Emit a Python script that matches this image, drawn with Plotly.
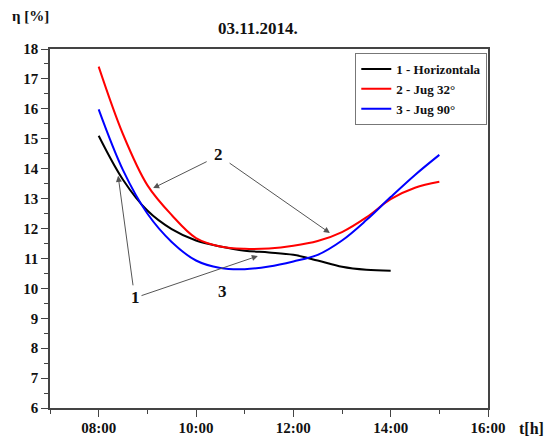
import plotly.graph_objects as go

# Data (hours as decimal, efficiency in %)
hours_black = [8.0, 8.5, 9.0, 9.5, 10.0, 10.5, 11.0, 11.5, 12.0, 12.5, 13.0, 13.5, 14.0]
eta_horizontala = [15.1, 13.63, 12.6, 11.98, 11.6, 11.4, 11.26, 11.2, 11.12, 10.93, 10.72, 10.62, 10.59]

hours_full = [8.0, 8.5, 9.0, 9.5, 10.0, 10.5, 11.0, 11.5, 12.0, 12.5, 13.0, 13.5, 14.0, 14.5, 15.0]
eta_jug32 = [17.41, 15.15, 13.45, 12.45, 11.68, 11.4, 11.32, 11.33, 11.42, 11.58, 11.88, 12.37, 12.98, 13.36, 13.56]
eta_jug90 = [15.98, 13.95, 12.5, 11.55, 10.93, 10.68, 10.64, 10.73, 10.9, 11.12, 11.6, 12.28, 13.05, 13.79, 14.46]

series_names = ["1 - Horizontala", "2 - Jug 32°", "3 - Jug 90°"]
series_colors = ["#000000", "#ff0000", "#0000ff"]

x_tickvals = [8, 10, 12, 14, 16]
x_ticktext = ["08:00", "10:00", "12:00", "14:00", "16:00"]
y_tickvals = [6, 7, 8, 9, 10, 11, 12, 13, 14, 15, 16, 17, 18]

FONT = "Liberation Serif, Times New Roman, serif"

fig = go.Figure()
fig.add_trace(go.Scatter(x=hours_black, y=eta_horizontala, mode="lines", name=series_names[0],
                         line=dict(color=series_colors[0], width=2, shape="spline", smoothing=1)))
fig.add_trace(go.Scatter(x=hours_full, y=eta_jug32, mode="lines", name=series_names[1],
                         line=dict(color=series_colors[1], width=2, shape="spline", smoothing=1)))
fig.add_trace(go.Scatter(x=hours_full, y=eta_jug90, mode="lines", name=series_names[2],
                         line=dict(color=series_colors[2], width=2, shape="spline", smoothing=1)))

axis_common = dict(showgrid=False, zeroline=False, showline=True, linecolor="#444444", linewidth=1.5,
                   mirror=True, ticks="outside", tickcolor="#444444", tickwidth=1.2, automargin=False,
                   tickfont=dict(family=FONT, size=15, color="#111111", weight="bold"))

fig.update_xaxes(range=[7, 16], tickvals=x_tickvals, ticktext=x_ticktext, ticklen=7,
                 ticklabelstandoff=-2,
                 minor=dict(dtick=1, tick0=7, ticklen=4, ticks="outside", tickcolor="#444444"),
                 **axis_common)
fig.update_yaxes(range=[6, 18], tickvals=y_tickvals, ticklen=7,
                 minor=dict(dtick=0.5, tick0=6, ticklen=4, ticks="outside", tickcolor="#444444"),
                 **axis_common)

ann_font = dict(family=FONT, size=17, color="#111111", weight="bold")
annotations = []
# arrows: (tail_x, tail_y, tip_x, tip_y)
arrows = [
    (10.25, 14.26, 9.12, 13.35),
    (10.66, 14.22, 12.75, 11.85),
    (8.71, 10.05, 8.40, 13.76),
    (8.85, 9.74, 11.27, 11.08),
]
for tx, ty, hx, hy in arrows:
    annotations.append(dict(x=hx, y=hy, ax=tx, ay=ty, xref="x", yref="y", axref="x", ayref="y",
                            text="", showarrow=True, arrowhead=2, arrowsize=1.2, arrowwidth=1,
                            arrowcolor="#555555", standoff=0, startstandoff=0))
labels = [("2", 10.47, 14.46), ("1", 8.75, 9.68), ("3", 10.55, 9.91)]
for t, lx, ly in labels:
    annotations.append(dict(x=lx, y=ly, xref="x", yref="y", text=t, showarrow=False, font=ann_font,
                            xanchor="center", yanchor="middle"))

annotations.append(dict(x=0.475, y=1.056, xref="paper", yref="paper", text="03.11.2014.", showarrow=False,
                        xanchor="center", yanchor="middle",
                        font=dict(family=FONT, size=17, color="#111111", weight="bold")))
annotations.append(dict(x=-0.045, y=1.092, xref="paper", yref="paper", text="η [%]", showarrow=False,
                        xanchor="center", yanchor="middle",
                        font=dict(family=FONT, size=15, color="#111111", weight="bold")))
annotations.append(dict(x=1.10, y=-0.056, xref="paper", yref="paper", text="t[h]", showarrow=False,
                        xanchor="center", yanchor="middle",
                        font=dict(family=FONT, size=16, color="#111111", weight="bold")))

fig.update_layout(
    width=553, height=436,
    margin=dict(l=50, r=65, t=49, b=28),
    paper_bgcolor="white", plot_bgcolor="white",
    showlegend=True,
    legend=dict(x=0.697, y=0.989, xanchor="left", yanchor="top", bgcolor="white",
                bordercolor="#777777", borderwidth=1, tracegroupgap=0,
                font=dict(family=FONT, size=13, color="#111111", weight="bold"),
                itemwidth=30),
    annotations=annotations,
)

fig.write_html("out.html", config={"displayModeBar": False},
               post_script="document.body.style.margin='0';document.body.style.overflow='hidden';")
